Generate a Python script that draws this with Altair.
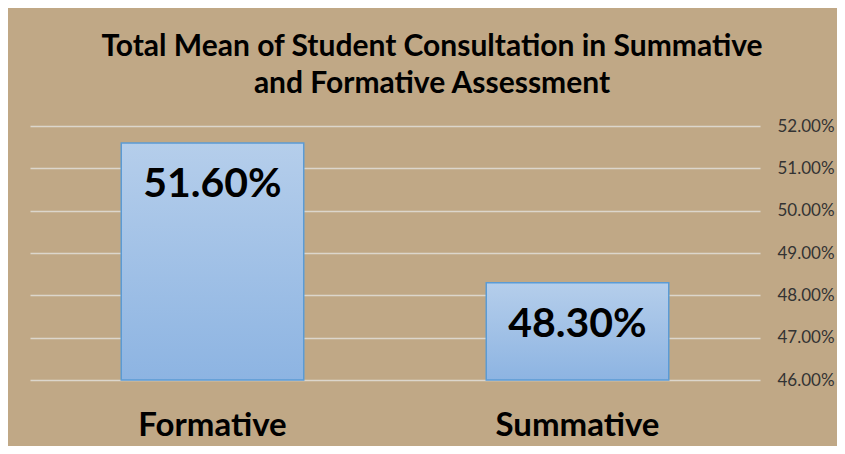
import altair as alt
import pandas as pd

categories = ["Formative", "Summative"]
values = [51.60, 48.30]
labels = ["51.60%", "48.30%"]
y_ticks = [46, 47, 48, 49, 50, 51, 52]
y_base = 46

df = pd.DataFrame({"cat": categories, "val": values, "lab": labels})

FONT = "Lato"

x = alt.X("cat:N", sort=categories, title=None,
          scale=alt.Scale(paddingInner=0.5, paddingOuter=0.25),
          axis=alt.Axis(labelAngle=0, labelFont=FONT, labelFontSize=33, labelFontWeight="bold",
                        labelColor="#000000", labelPadding=29, domain=False, ticks=False))
y = alt.Y("val:Q", title=None,
          scale=alt.Scale(domain=[46, 52], nice=False, zero=False),
          axis=alt.Axis(orient="right", values=y_ticks, labelExpr="format(datum.value, '.2f') + '%'",
                        labelFont=FONT, labelFontSize=17, labelColor="#333333", labelPadding=17,
                        domain=False, ticks=False, grid=True, gridColor="#DCD6CC", gridWidth=1.5))

bars = alt.Chart(df).mark_bar(
    fill=alt.Gradient(gradient="linear", x1=0, y1=0, x2=0, y2=1,
                      stops=[alt.GradientStop(color="#B5CEEB", offset=0),
                             alt.GradientStop(color="#8DB4E2", offset=1)]),
    stroke="#5B9BD5", strokeWidth=1.5
).encode(x=x, y=y, y2=alt.datum(y_base))

text = alt.Chart(df).mark_text(
    font=FONT, fontSize=41, fontWeight="bold", color="#000000", baseline="middle", dy=42
).encode(x=alt.X("cat:N", sort=categories), y=alt.Y("val:Q"), text="lab:N")

chart = alt.layer(bars, text).properties(
    width=730, height=254,
    title=alt.TitleParams(
        text=["Total Mean of Student Consultation in Summative", "and Formative Assessment"],
        font=FONT, fontSize=30, fontWeight="bold", color="#000000",
        anchor="middle", dx=37, offset=18, lineHeight=37),
    padding={"left": 22, "top": 118, "right": 77, "bottom": 66},
    autosize=alt.AutoSizeParams(type="none"),
    background="#C0A886"
).configure_view(stroke=None)

chart.save("out.html", embed_options={"renderer": "svg", "actions": False})
